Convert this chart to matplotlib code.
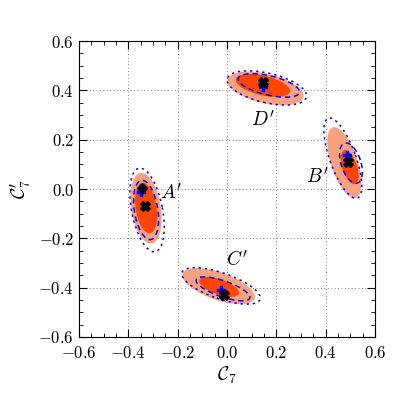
import numpy as np
import matplotlib
matplotlib.use('Agg')
from matplotlib import pyplot as plt
from matplotlib.patches import Ellipse
from matplotlib.ticker import MultipleLocator, FuncFormatter

plt.rcParams['mathtext.fontset'] = 'cm'
plt.rcParams['font.family'] = 'serif'

# the four solutions A', B', C', D'
names = ["A'", "B'", "C'", "D'"]
# (x, y) of the region centres
light_cx = [-0.328, 0.476, -0.034, 0.156]
light_cy = [-0.078, 0.107, -0.394, 0.408]
light_w = [0.29, 0.30, 0.31, 0.315]
light_h = [0.12, 0.108, 0.112, 0.12]
light_ang = [99, 108, -19, -13]

dark_cx = [-0.328, 0.498, -0.032, 0.146]
dark_cy = [-0.077, 0.089, -0.397, 0.42]
dark_w = [0.207, 0.145, 0.17, 0.225]
dark_h = [0.085, 0.06, 0.062, 0.08]
dark_ang = [99, 108, -19, -13]

outer_cx = [-0.324, 0.47, -0.024, 0.162]
outer_cy = [-0.085, 0.125, -0.393, 0.41]
outer_w = [0.345, 0.345, 0.335, 0.33]
outer_h = [0.125, 0.105, 0.105, 0.12]
outer_ang = [101, 110, -19, -13]

inner_cx = [-0.328, 0.503, -0.016, 0.17]
inner_cy = [-0.085, 0.105, -0.405, 0.42]
inner_w = [0.243, 0.17, 0.23, 0.255]
inner_h = [0.095, 0.08, 0.065, 0.078]
inner_ang = [99, 108, -19, -13]

# best fit points
best_x = [-0.332, 0.492, -0.012, 0.147]
best_y = [-0.068, 0.111, -0.430, 0.433]
blue_x = [-0.349, 0.488, -0.026, 0.147]
blue_y = [-0.011, 0.138, -0.409, 0.412]
sm_x = [-0.343]
sm_y = [0.005]

label_x = [-0.224, 0.368, 0.04, 0.145]
label_y = [-0.017, 0.05, -0.288, 0.28]

fig = plt.figure(figsize=(3.95, 3.95), dpi=100)
ax = fig.add_axes([0.2, 0.147, 0.749, 0.749])

for i in range(len(names)):
    ax.add_patch(Ellipse((light_cx[i], light_cy[i]), light_w[i], light_h[i], angle=light_ang[i],
                         facecolor='#f9a37c', edgecolor='none', zorder=2))
    ax.add_patch(Ellipse((dark_cx[i], dark_cy[i]), dark_w[i], dark_h[i], angle=dark_ang[i],
                         facecolor='#ff4500', edgecolor='none', zorder=3))
    ax.add_patch(Ellipse((outer_cx[i], outer_cy[i]), outer_w[i], outer_h[i], angle=outer_ang[i],
                         facecolor='none', edgecolor='blue', linestyle=(0, (1.5, 2.5)), lw=1.1, zorder=4))
    ax.add_patch(Ellipse((inner_cx[i], inner_cy[i]), inner_w[i], inner_h[i], angle=inner_ang[i],
                         facecolor='none', edgecolor='blue', linestyle=(0, (3.5, 2.5)), lw=1.1, zorder=4))
    ax.text(label_x[i], label_y[i], '$\\mathit{' + names[i][0] + "}'$", fontsize=14,
            ha='center', va='center', zorder=6)

ax.plot(blue_x, blue_y, 'P', color='blue', ms=6, zorder=5)
ax.plot(best_x, best_y, 'X', color='black', ms=7, zorder=5)
ax.plot(sm_x, sm_y, 'D', color='black', ms=5, zorder=5)

ax.set_xlim(-0.6, 0.6)
ax.set_ylim(-0.6, 0.6)
ax.xaxis.set_major_locator(MultipleLocator(0.2))
ax.yaxis.set_major_locator(MultipleLocator(0.2))
ax.xaxis.set_minor_locator(MultipleLocator(0.05))
ax.yaxis.set_minor_locator(MultipleLocator(0.05))
fmt = FuncFormatter(lambda v, p: '$%.1f$' % v)
ax.xaxis.set_major_formatter(fmt)
ax.yaxis.set_major_formatter(fmt)
ax.tick_params(which='both', direction='in', top=True, right=True, labelsize=12)
ax.tick_params(which='major', length=6)
ax.tick_params(which='minor', length=3)
ax.tick_params(axis='x', pad=6)
ax.grid(True, which='major', linestyle=(0, (1, 2.5)), color='gray', lw=0.7, zorder=0)
ax.set_axisbelow(True)
ax.set_xlabel('$\\mathcal{C}_7$', fontsize=14, labelpad=2)
ax.set_ylabel("$\\mathcal{C}_7'$", fontsize=14)

fig.savefig('out.png', dpi=100)
